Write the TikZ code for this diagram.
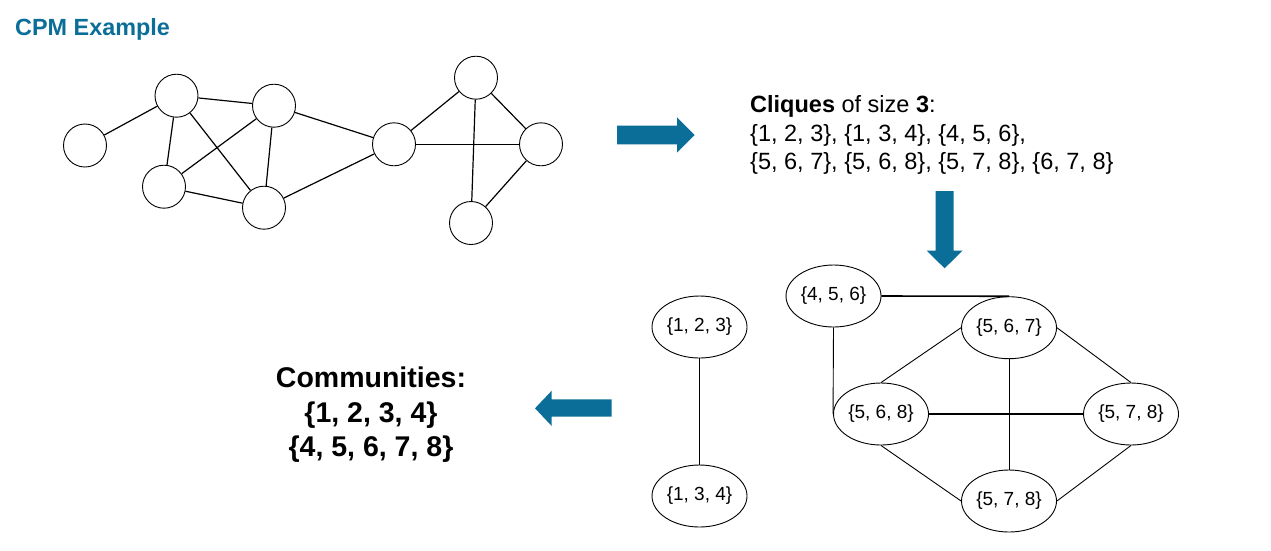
\documentclass[tikz,border=0pt]{standalone}
\usepackage{fontspec}
\setmainfont{Liberation Sans}
\usetikzlibrary{shapes.geometric}
\definecolor{cpmblue}{RGB}{11,110,152}
\begin{document}
\begin{tikzpicture}[x=1pt,y=-1pt,
  vtx/.style={circle,draw,line width=0.9pt,minimum size=43pt,inner sep=0pt},
  edge/.style={line width=1.2pt},
  cq/.style={ellipse,draw,line width=0.9pt,minimum width=95pt,minimum height=62pt,inner sep=0pt,font=\fontsize{19}{22}\selectfont},
  cqedge/.style={line width=0.9pt},
  cqthick/.style={line width=1.6pt},
  bigarrow/.style={fill=cpmblue},
  txt/.style={inner sep=0pt,anchor=base west,font=\fontsize{23.5}{29}\selectfont},
  comm/.style={inner sep=0pt,anchor=base,font=\fontsize{28.5}{34}\selectfont\bfseries}]
\useasboundingbox (0,0) rectangle (1271,550);

% title
\node[inner sep=0pt,anchor=base west,text=cpmblue,font=\fontsize{23.4}{26}\selectfont\bfseries] (title) at (15,35) {CPM Example};

% original graph
\node[vtx] (n1) at (85,145.5) {};
\node[vtx] (n2) at (176.5,95.7) {};
\node[vtx] (n3) at (274,105.7) {};
\node[vtx] (n4) at (164,186.7) {};
\node[vtx] (n5) at (264,207.7) {};
\node[vtx] (n6) at (394,144.3) {};
\node[vtx] (n7) at (476,77.7) {};
\node[vtx] (n8) at (541,144.3) {};
\node[vtx] (n9) at (471,223) {};
\draw[edge] (n1) -- (n2);
\draw[edge] (n2) -- (n3);
\draw[edge] (n2) -- (n4);
\draw[edge] (n2) -- (n5);
\draw[edge] (n3) -- (n4);
\draw[edge] (n3) -- (n5);
\draw[edge] (n3) -- (n6);
\draw[edge] (n4) -- (n5);
\draw[edge] (n5) -- (n6);
\draw[edge] (n6) -- (n7);
\draw[edge] (n6) -- (n8);
\draw[edge] (n7) -- (n8);
\draw[edge] (n7) -- (n9);
\draw[edge] (n8) -- (n9);

% arrows
\fill[bigarrow] (617,125.7) -- (677,125.7) -- (677,117.3) -- (694.6,135) -- (677,152.7) -- (677,144.3) -- (617,144.3) -- cycle;
\fill[bigarrow] (935.7,191) -- (953.6,191) -- (953.6,250.7) -- (962.5,250.7) -- (944.6,268.3) -- (926.8,250.7) -- (935.7,250.7) -- cycle;
\fill[bigarrow] (611.7,399.3) -- (551.7,399.3) -- (551.7,390.7) -- (535,408.3) -- (551.7,426) -- (551.7,416.7) -- (611.7,416.7) -- cycle;

% cliques text
\node[txt] (cl1) at (750,112.7) {\textbf{Cliques} of size \textbf{3}:};
\node[txt] (cl2) at (750,141.2) {\{1, 2, 3\}, \{1, 3, 4\}, \{4, 5, 6\},};
\node[txt] (cl3) at (750,169.7) {\{5, 6, 7\}, \{5, 6, 8\}, \{5, 7, 8\}, \{6, 7, 8\}};

% communities
\node[comm] (co1) at (371,387) {Communities:};
\node[comm] (co2) at (371,422) {\{1, 2, 3, 4\}};
\node[comm] (co3) at (371,456) {\{4, 5, 6, 7, 8\}};

% clique graph
\node[cq] (c123) at (699.5,327) {\{1, 2, 3\}};
\node[cq] (c134) at (699.5,496) {\{1, 3, 4\}};
\node[cq] (c456) at (833.5,296) {\{4, 5, 6\}};
\node[cq] (c567) at (1009,327.7) {\{5, 6, 7\}};
\node[cq] (c568) at (881,414) {\{5, 6, 8\}};
\node[cq] (c578r) at (1131,414) {\{5, 7, 8\}};
\node[cq] (c578b) at (1009,501) {\{5, 7, 8\}};
\draw[cqedge] (c123.south) -- (c134.north);
\draw[cqthick] (c456.east) -- (c567.north);
\draw[cqedge] (c456.south) -- (c568.west);
\draw[cqedge] (c567.west) -- (c568.north);
\draw[cqedge] (c567.east) -- (c578r.north);
\draw[cqedge] (c567.south) -- (c578b.north);
\draw[cqthick] (c568.east) -- (c578r.west);
\draw[cqedge] (c568.south) -- (c578b.west);
\draw[cqedge] (c578r.south) -- (c578b.east);
\end{tikzpicture}
\end{document}
